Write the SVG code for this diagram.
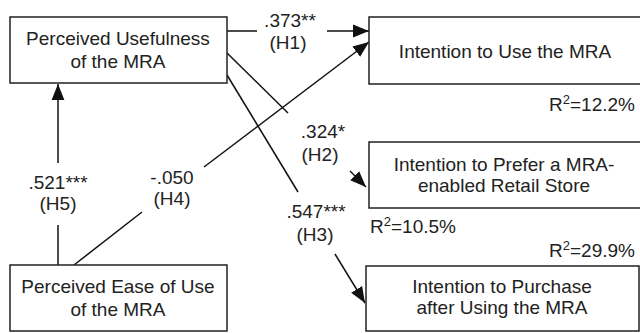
<svg xmlns="http://www.w3.org/2000/svg" width="640" height="333" viewBox="0 0 640 333">
<defs>
<style>
.box{fill:#fff;stroke:#222;stroke-width:1.5}
.t{font-family:"Liberation Sans",Arial,sans-serif;font-size:19px;fill:#222;text-anchor:middle}
.r{text-anchor:end}
.l{text-anchor:start}
.ln{stroke:#111;stroke-width:1.5;fill:none}
.sup{font-size:13px}
</style>
<marker id="ah" viewBox="0 0 10 10" refX="10" refY="5" markerWidth="16" markerHeight="16" markerUnits="userSpaceOnUse" orient="auto">
<path d="M0,1 L10,5 L0,9 Z" fill="#111"/>
</marker>
</defs>
<rect width="640" height="333" fill="#fff"/>
<g id="connectors">
<!-- H1 -->
<line class="ln" x1="227" y1="31" x2="257" y2="31"/>
<line class="ln" x1="327" y1="31" x2="369" y2="31" marker-end="url(#ah)"/>
<text class="t" x="290" y="27">.373**</text>
<text class="t" x="288" y="49">(H1)</text>
<!-- H2 -->
<line class="ln" x1="227" y1="53" x2="288" y2="113"/>
<line class="ln" x1="350" y1="171" x2="366" y2="187" marker-end="url(#ah)"/>
<text class="t" x="323" y="138">.324*</text>
<text class="t" x="320" y="161">(H2)</text>
<!-- H3 -->
<line class="ln" x1="227" y1="75" x2="298" y2="192"/>
<line class="ln" x1="335" y1="254" x2="365" y2="303" marker-end="url(#ah)"/>
<text class="t" x="316" y="218">.547***</text>
<text class="t" x="315" y="241">(H3)</text>
<!-- H4 -->
<line class="ln" x1="74" y1="265" x2="142" y2="212"/>
<line class="ln" x1="204" y1="167" x2="369" y2="42" marker-end="url(#ah)"/>
<text class="t" x="172" y="184">-.050</text>
<text class="t" x="172" y="205">(H4)</text>
<!-- H5 -->
<line class="ln" x1="58" y1="265" x2="58" y2="225"/>
<line class="ln" x1="58" y1="163" x2="58" y2="84" marker-end="url(#ah)"/>
<text class="t" x="58" y="189">.521***</text>
<text class="t" x="58" y="210">(H5)</text>
</g>
<g id="pu">
<rect class="box" x="10" y="17" width="217" height="66"/>
<text class="t" x="118" y="45">Perceived Usefulness</text>
<text class="t" x="118" y="68">of the MRA</text>
</g>
<g id="peu">
<rect class="box" x="10" y="265" width="217" height="66"/>
<text class="t" x="118" y="293">Perceived Ease of Use</text>
<text class="t" x="118" y="316">of the MRA</text>
</g>
<g id="iu">
<rect class="box" x="369" y="17" width="275" height="67"/>
<text class="t" x="505" y="58">Intention to Use the MRA</text>
<text class="t r" x="635" y="111">R<tspan class="sup" dy="-7">2</tspan><tspan dy="7">=12.2%</tspan></text>
</g>
<g id="ip">
<rect class="box" x="369" y="142" width="275" height="66"/>
<text class="t" x="504" y="171">Intention to Prefer a MRA-</text>
<text class="t" x="504" y="192">enabled Retail Store</text>
<text class="t l" x="370" y="233">R<tspan class="sup" dy="-7">2</tspan><tspan dy="7">=10.5%</tspan></text>
</g>
<g id="ipu">
<rect class="box" x="366" y="266" width="273" height="65"/>
<text class="t" x="502" y="293">Intention to Purchase</text>
<text class="t" x="502" y="314">after Using the MRA</text>
<text class="t r" x="635" y="257">R<tspan class="sup" dy="-7">2</tspan><tspan dy="7">=29.9%</tspan></text>
</g>
</svg>
